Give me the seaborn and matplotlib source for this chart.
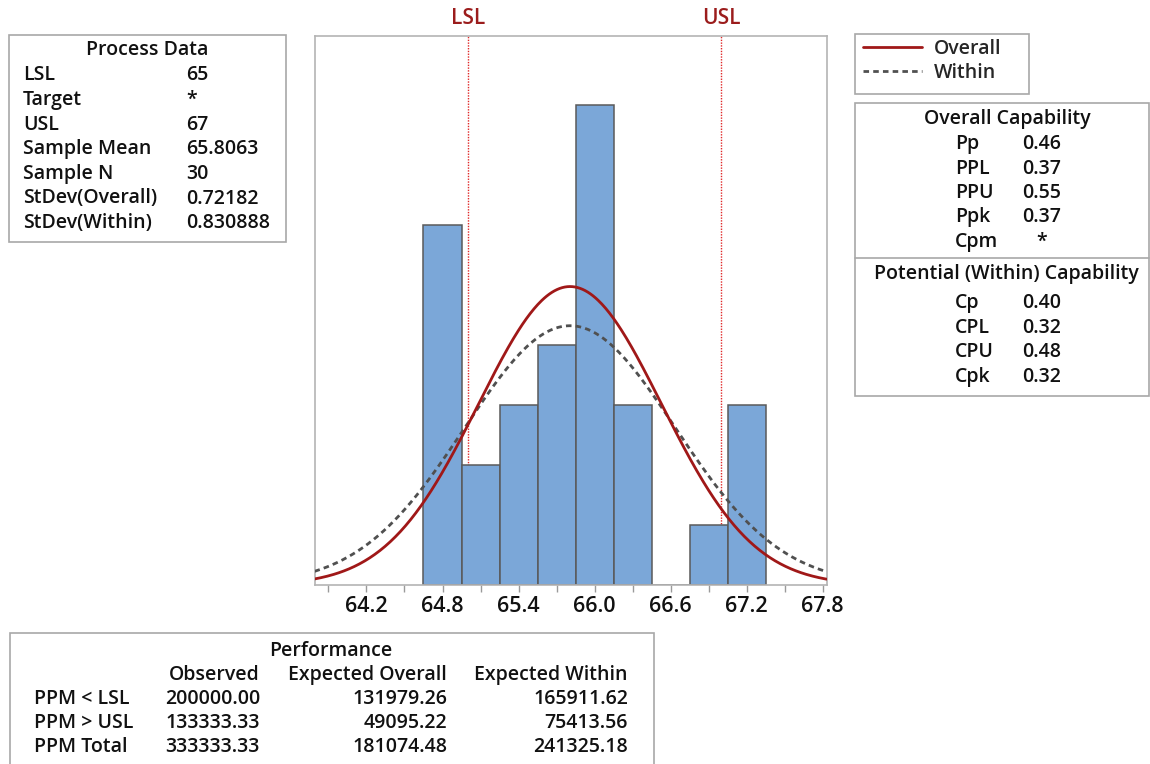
import numpy as np
import pandas as pd
import seaborn as sns
import matplotlib
matplotlib.use("Agg")
import matplotlib.pyplot as plt
from matplotlib.patches import Rectangle
from matplotlib.lines import Line2D

# ---------------- data ----------------
bin_mids = [64.8, 65.1, 65.4, 65.7, 66.0, 66.3, 66.6, 66.9, 67.2]
bin_counts = [6, 2, 3, 4, 8, 3, 0, 1, 3]
bin_width = 0.3

lsl = 65
usl = 67
sample_mean = 65.8063
sample_n = 30
sd_overall = 0.72182
sd_within = 0.830888

process_labels = ["LSL", "Target", "USL", "Sample Mean", "Sample N", "StDev(Overall)", "StDev(Within)"]
process_values = ["65", "*", "67", "65.8063", "30", "0.72182", "0.830888"]

overall_labels = ["Pp", "PPL", "PPU", "Ppk", "Cpm"]
overall_values = ["0.46", "0.37", "0.55", "0.37", "*"]
within_labels = ["Cp", "CPL", "CPU", "Cpk"]
within_values = ["0.40", "0.32", "0.48", "0.32"]

perf_rows = ["PPM < LSL", "PPM > USL", "PPM Total"]
perf_cols = ["Observed", "Expected Overall", "Expected Within"]
perf_observed = ["200000.00", "133333.33", "333333.33"]
perf_exp_overall = ["131979.26", "49095.22", "181074.48"]
perf_exp_within = ["165911.62", "75413.56", "241325.18"]

tick_major = [64.2, 64.8, 65.4, 66.0, 66.6, 67.2, 67.8]
tick_minor = [63.9, 64.5, 65.1, 65.7, 66.3, 66.9, 67.5]

# ---------------- style ----------------
sns.set_theme(style="white")
plt.rcParams["font.family"] = ["Open Sans", "DejaVu Sans"]

FS = 14  # table text size
W, H = 1150, 764
fig = plt.figure(figsize=(W / 100, H / 100), dpi=100)


def fx(x):
    return x / W


def fy(y):
    return 1 - y / H


# main axes
ax_l, ax_r, ax_t, ax_b = 314.5, 826.5, 36, 585
ax = fig.add_axes([fx(ax_l), fy(ax_b), fx(ax_r - ax_l), (ax_b - ax_t) / H])

edges = [m - bin_width / 2 for m in bin_mids] + [bin_mids[-1] + bin_width / 2]
hist_df = pd.DataFrame({"x": bin_mids, "n": bin_counts})
sns.histplot(data=hist_df, x="x", weights="n", bins=edges, ax=ax,
             color="#7BA7D8", edgecolor="#5a5a5a", linewidth=1.1, alpha=1, zorder=2)

x_lo, x_hi = 63.79, 67.83
xs = np.linspace(x_lo, x_hi, 400)
scale = sample_n * bin_width


def normal_curve(sd):
    return scale * np.exp(-0.5 * ((xs - sample_mean) / sd) ** 2) / (sd * np.sqrt(2 * np.pi))


curve_df = pd.DataFrame({"x": xs, "overall": normal_curve(sd_overall), "within": normal_curve(sd_within)})
dash = (0, (2.0, 1.5))
sns.lineplot(data=curve_df, x="x", y="within", ax=ax, color="#505050", linewidth=2,
             linestyle=dash, zorder=3)
sns.lineplot(data=curve_df, x="x", y="overall", ax=ax, color="#A01818", linewidth=2,
             zorder=4)

for spec in (lsl, usl):
    ax.axvline(spec, color="#E02828", linewidth=1, linestyle=(0, (1, 1)), zorder=1)

ax.set_xlim(x_lo, x_hi)
ax.set_ylim(0, 9.15)
ax.set_yticks([])
ax.set_xlabel("")
ax.set_ylabel("")
ax.set_xticks(tick_major)
ax.set_xticklabels([f"{t:.1f}" for t in tick_major], fontsize=15.5, fontweight="semibold", color="#111111")
ax.set_xticks(tick_minor, minor=True)
ax.tick_params(axis="x", which="both", direction="out", length=5, width=1,
               color="#9a9a9a", pad=3, bottom=True)
for s in ax.spines.values():
    s.set_color("#b4b4b4")
    s.set_linewidth(1.2)

# spec labels
for spec, name in ((lsl, "LSL"), (usl, "USL")):
    px = ax_l + (spec - x_lo) / (x_hi - x_lo) * (ax_r - ax_l)
    fig.text(fx(px), fy(19), name, ha="center", va="center", fontsize=15,
             fontweight="semibold", color="#9B1C1C")

box_color = "#a8a8a8"


def box(x0, y0, x1, y1):
    fig.patches.append(Rectangle((fx(x0), fy(y1)), fx(x1 - x0), (y1 - y0) / H,
                                 transform=fig.transFigure, fill=False,
                                 edgecolor=box_color, linewidth=1.2, clip_on=False))


def txt(x, y, s, ha="left"):
    fig.text(fx(x), fy(y), s, ha=ha, va="center", fontsize=FS,
             fontweight="semibold", color="#111111")


# legend (frame drawn separately to match the wider box)
box(855.5, 34.5, 1029, 94)
handles = [Line2D([], [], color="#A01818", linewidth=2),
           Line2D([], [], color="#505050", linewidth=2, linestyle=dash)]
leg = fig.legend(handles, ["Overall", "Within"], loc="upper left",
                 bbox_to_anchor=(fx(863), fy(39)), bbox_transform=fig.transFigure,
                 prop={"size": FS, "weight": "semibold"}, handlelength=3.05,
                 handletextpad=0.6, borderpad=0, labelspacing=0.22,
                 frameon=False, borderaxespad=0)

# Process Data
box(8.5, 35, 285.5, 242)
txt(147, 50, "Process Data", ha="center")
for i, (lab, val) in enumerate(zip(process_labels, process_values)):
    y = 75.5 + i * 24.6
    txt(23, y, lab)
    txt(186, y, val)

# Capability box
box(855.5, 103, 1149, 396)
fig.lines.append(Line2D([fx(855.5), fx(1149)], [fy(258), fy(258)], transform=fig.transFigure,
                        color=box_color, linewidth=1.2))
txt(1007, 119, "Overall Capability", ha="center")
for i, (lab, val) in enumerate(zip(overall_labels, overall_values)):
    y = 144 + i * 24.5
    txt(955, y, lab)
    if val == "*":
        txt(1042, y, val, ha="center")
    else:
        txt(1022, y, val)
txt(1006, 273.5, "Potential (Within) Capability", ha="center")
for i, (lab, val) in enumerate(zip(within_labels, within_values)):
    y = 303 + i * 24.6
    txt(955, y, lab)
    txt(1022, y, val)

# Performance
box(9.5, 633, 654, 790)
txt(331, 651, "Performance", ha="center")
col_right = [260, 447, 628]
for c, name in zip(col_right, perf_cols):
    txt(c, 675, name, ha="right")
for i, lab in enumerate(perf_rows):
    y = 699.5 + i * 24
    txt(34, y, lab)
    for c, vals in zip(col_right, (perf_observed, perf_exp_overall, perf_exp_within)):
        txt(c, y, vals[i], ha="right")

fig.savefig("out.png", dpi=100)
